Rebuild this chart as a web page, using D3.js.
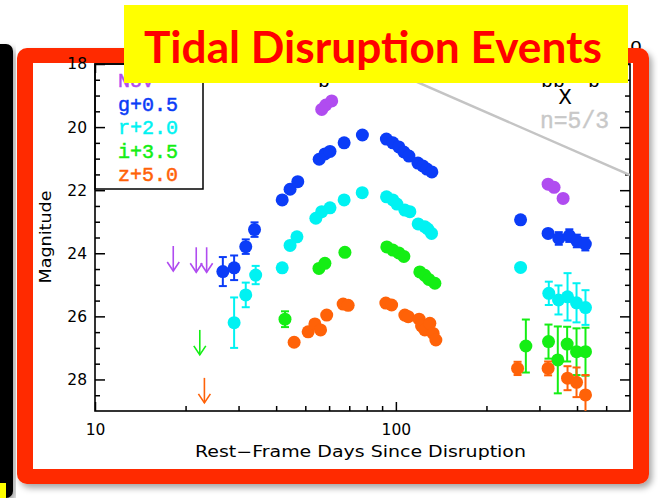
<!DOCTYPE html>
<html>
<head>
<meta charset="utf-8">
<script src="https://cdn.jsdelivr.net/npm/d3@7"></script>
<style>
  html, body { margin: 0; padding: 0; background: #fff; }
  svg { display: block; }
</style>
</head>
<body>
<svg id="chart" width="658" height="498"></svg>
<script>
// ---- Light-curve data (rest-frame days, apparent magnitude, 1-sigma error) ----
const bandNames   = ["NUV", "g", "r", "i", "z"];
const bandOffsets = [0, 0.5, 2.0, 3.5, 5.0];
const legendLabels = ["NUV", "g+0.5", "r+2.0", "i+3.5", "z+5.0"];
const bandColors  = ["#b04cf0", "#0b3cf7", "#00f2f2", "#14ee14", "#ff6208"];

const nuvDays = [56.7, 58.5, 61.2, 320.6, 335.6, 359.6];
const nuvMag  = [19.44, 19.30, 19.17, 21.81, 21.91, 22.26];
const nuvErr  = [0, 0, 0, 0, 0, 0];

const gDays = [26.6, 29.0, 31.7, 33.9, 41.9, 44.5, 47.2, 55.6, 58.1, 60.4, 67.3, 77.4,
               93.0, 97.7, 102.3, 106.3, 110.5, 118.4, 122.9, 126.8, 131.7,
               259.7, 320.6, 347.9, 377.1, 399.4, 426.3];
const gMag  = [24.08, 23.96, 23.29, 22.75, 21.81, 21.47, 21.23, 20.52, 20.35, 20.27, 20.00, 19.75,
               19.88, 20.00, 20.13, 20.29, 20.42, 20.64, 20.73, 20.83, 20.92,
               22.44, 22.87, 23.03, 22.94, 23.11, 23.21];
const gErr  = [0.46, 0.39, 0.23, 0.23, 0, 0, 0, 0, 0, 0, 0, 0,
               0, 0, 0, 0, 0, 0, 0, 0, 0,
               0, 0.10, 0.20, 0.20, 0.20, 0.20];

const rDays = [29.0, 31.7, 34.2, 41.9, 44.5, 46.9, 54.2, 56.7, 60.4, 67.3, 77.3,
               93.1, 97.7, 100.8, 107.1, 111.3, 118.6, 124.8, 127.7, 131.4,
               259.7, 322.3, 347.1, 372.0, 398.5, 426.8];
const rMag  = [24.20, 23.32, 22.69, 22.46, 21.75, 21.48, 20.89, 20.68, 20.56, 20.31, 20.08,
               20.21, 20.31, 20.44, 20.63, 20.68, 21.07, 21.16, 21.23, 21.37,
               22.45, 23.27, 23.48, 23.38, 23.57, 23.72];
const rErr  = [0.80, 0.39, 0.29, 0, 0, 0, 0, 0, 0, 0, 0,
               0, 0, 0, 0, 0, 0, 0, 0, 0,
               0, 0.37, 0.46, 0.75, 0.62, 0.55];

const iDays = [42.8, 55.5, 58.1, 67.7, 93.3, 97.7, 102.3, 106.3, 120.1, 124.8, 128.7, 134.8,
               270.4, 321.6, 345.3, 370.9, 398.5, 426.8];
const iMag  = [22.59, 20.98, 20.82, 20.47, 20.30, 20.40, 20.49, 20.60, 21.09, 21.20, 21.33, 21.45,
               23.44, 23.30, 23.88, 23.38, 23.62, 23.62];
const iErr  = [0.25, 0, 0, 0, 0, 0, 0, 0, 0, 0, 0, 0,
               0.84, 0.54, 1.06, 0.55, 0.74, 0.76];

const zDays = [45.9, 51.1, 53.8, 56.2, 58.9, 66.8, 69.4, 92.6, 96.8, 107.1, 109.9, 119.5,
               121.7, 124.8, 129.7, 133.0, 135.8,
               253.8, 320.6, 372.0, 398.5, 426.8];
const zMag  = [21.82, 21.49, 21.24, 21.43, 20.96, 20.61, 20.65, 20.58, 20.64, 20.96, 21.01, 21.09,
               21.30, 21.43, 21.22, 21.54, 21.75,
               22.65, 22.65, 22.96, 23.09, 23.49];
const zErr  = [0, 0, 0, 0, 0, 0, 0, 0, 0, 0, 0, 0,
               0, 0, 0, 0, 0,
               0.21, 0.22, 0.38, 0.47, 0.63];

// Pre-detection upper limits (band index, day, limiting magnitude)
const limitBand = [0, 0, 0, 3, 4];
const limitDays = [18.2, 21.7, 23.5, 22.3, 23.1];
const limitMag  = [23.77, 23.81, 23.81, 22.93, 22.95];

// Power-law fallback t^(-5/3), anchored at the right edge
const powerIndex = 5 / 3;
const powerAnchorDay = 600;
const powerAnchorMag = 21.52;
const powerStartDay = 30;

// Axis ticks
const xDomain = [10, 600];
const yDomain = [18, 29];
const xMajor = [10, 100];
const xMinor = [20, 30, 40, 50, 60, 70, 80, 90, 200, 300, 400, 500];
const yMajor = [18, 20, 22, 24, 26, 28];
const yMinor = [18.5, 19, 19.5, 20.5, 21, 21.5, 22.5, 23, 23.5, 24.5, 25, 25.5, 26.5, 27, 27.5, 28.5];

const series = [
  { days: nuvDays, mag: nuvMag, err: nuvErr },
  { days: gDays, mag: gMag, err: gErr },
  { days: rDays, mag: rMag, err: rErr },
  { days: iDays, mag: iMag, err: iErr },
  { days: zDays, mag: zMag, err: zErr }
];

// ---- Layout ----
const plot = { left: 95, right: 630, top: 64, bottom: 411 };
const svg = d3.select("#chart");

const x = d3.scaleLog().domain(xDomain).range([plot.left, plot.right]);
const y = d3.scaleLinear().domain(yDomain).range([plot.top, plot.bottom]);

const defs = svg.append("defs");
const shadow = defs.append("filter").attr("id", "shadow")
  .attr("x", "-10%").attr("y", "-10%").attr("width", "120%").attr("height", "120%");
shadow.append("feDropShadow").attr("dx", 3).attr("dy", 4)
  .attr("stdDeviation", 3).attr("flood-color", "#000").attr("flood-opacity", 0.35);
defs.append("clipPath").attr("id", "plotClip").append("rect")
  .attr("x", plot.left).attr("y", plot.top)
  .attr("width", plot.right - plot.left).attr("height", plot.bottom - plot.top);

// ---- Slide decoration ----
svg.append("rect").attr("x", -12).attr("y", 44).attr("width", 25).attr("height", 454)
  .attr("rx", 7).attr("fill", "#000").attr("filter", "url(#shadow)");
svg.append("rect").attr("x", 0).attr("y", 483).attr("width", 6).attr("height", 15).attr("fill", "#ffff00");

svg.append("text").attr("x", 636).attr("y", 52).attr("text-anchor", "middle")
  .attr("font-family", "Liberation Mono").attr("font-size", 20).attr("fill", "#000").text("o");

svg.append("rect").attr("x", 17).attr("y", 48).attr("width", 632).attr("height", 436)
  .attr("rx", 10).attr("fill", "#ff2a00").attr("filter", "url(#shadow)");
svg.append("rect").attr("x", 33).attr("y", 63).attr("width", 600).attr("height", 406).attr("fill", "#fff");

// ---- Axes ----
function styleAxis(g) {
  g.select(".domain").remove();
  g.selectAll(".tick line").attr("stroke", "#000").attr("stroke-width", 1.5);
  g.selectAll("text").attr("font-family", "DejaVu Sans").attr("font-size", 15.5).attr("fill", "#000");
}

svg.append("g").attr("transform", `translate(${plot.left},0)`)
  .call(d3.axisLeft(y).tickValues(yMajor).tickSizeInner(-10).tickSizeOuter(0).tickPadding(8).tickFormat(d3.format("d")))
  .call(styleAxis);
svg.append("g").attr("transform", `translate(${plot.left},0)`)
  .call(d3.axisLeft(y).tickValues(yMinor).tickSizeInner(-5).tickSizeOuter(0).tickFormat(""))
  .call(styleAxis);
svg.append("g").attr("transform", `translate(${plot.right},0)`)
  .call(d3.axisRight(y).tickValues(yMajor).tickSizeInner(-10).tickSizeOuter(0).tickFormat(""))
  .call(styleAxis);
svg.append("g").attr("transform", `translate(${plot.right},0)`)
  .call(d3.axisRight(y).tickValues(yMinor).tickSizeInner(-5).tickSizeOuter(0).tickFormat(""))
  .call(styleAxis);
svg.append("g").attr("transform", `translate(0,${plot.bottom})`)
  .call(d3.axisBottom(x).tickValues(xMajor).tickSizeInner(-9).tickSizeOuter(0).tickPadding(13).tickFormat(d3.format("d")))
  .call(styleAxis);
svg.append("g").attr("transform", `translate(0,${plot.bottom})`)
  .call(d3.axisBottom(x).tickValues(xMinor).tickSizeInner(-5).tickSizeOuter(0).tickFormat(""))
  .call(styleAxis);
svg.append("g").attr("transform", `translate(0,${plot.top})`)
  .call(d3.axisTop(x).tickValues(xMajor).tickSizeInner(-9).tickSizeOuter(0).tickFormat(""))
  .call(styleAxis);
svg.append("g").attr("transform", `translate(0,${plot.top})`)
  .call(d3.axisTop(x).tickValues(xMinor).tickSizeInner(-5).tickSizeOuter(0).tickFormat(""))
  .call(styleAxis);

svg.append("rect").attr("x", plot.left).attr("y", plot.top)
  .attr("width", plot.right - plot.left).attr("height", plot.bottom - plot.top)
  .attr("fill", "none").attr("stroke", "#000").attr("stroke-width", 1.6);

svg.append("text").attr("x", (plot.left + plot.right) / 2 - 2).attr("y", 457)
  .attr("text-anchor", "middle").attr("font-family", "DejaVu Sans").attr("font-size", 15)
  .attr("textLength", 331).attr("lengthAdjust", "spacingAndGlyphs")
  .text("Rest\u2212Frame Days Since Disruption");
svg.append("text").attr("transform", "translate(51,237) rotate(-90)")
  .attr("text-anchor", "middle").attr("font-family", "DejaVu Sans").attr("font-size", 15)
  .attr("textLength", 93).attr("lengthAdjust", "spacingAndGlyphs")
  .text("Magnitude");

// ---- Plot contents ----
const body = svg.append("g").attr("clip-path", "url(#plotClip)");

// t^(-5/3) decline: m = m0 + 2.5 n log10(t / t0)
const powerMag = t => powerAnchorMag + 2.5 * powerIndex * Math.log10(t / powerAnchorDay);
body.append("line")
  .attr("x1", x(powerStartDay)).attr("y1", y(powerMag(powerStartDay)))
  .attr("x2", x(powerAnchorDay)).attr("y2", y(powerMag(powerAnchorDay)))
  .attr("stroke", "#c4c4c4").attr("stroke-width", 2.5);

// Upper-limit arrows
const arrowLen = 25;
limitDays.forEach((d, k) => {
  const b = limitBand[k];
  const px = x(d), py = y(limitMag[k] + bandOffsets[b]);
  const g = body.append("g").attr("stroke", bandColors[b]).attr("stroke-width", 1.6).attr("fill", "none");
  g.append("line").attr("x1", px).attr("y1", py).attr("x2", px).attr("y2", py + arrowLen);
  g.append("polyline").attr("points", `${px - 6},${py + arrowLen - 9} ${px},${py + arrowLen} ${px + 6},${py + arrowLen - 9}`);
});

// Error bars and points
series.forEach((s, b) => {
  const pts = s.days.map((d, k) => ({ d, m: s.mag[k] + bandOffsets[b], e: s.err[k] }));
  const col = bandColors[b];
  const bars = body.append("g").attr("stroke", col).attr("stroke-width", 2);
  pts.filter(p => p.e > 0).forEach(p => {
    const px = x(p.d), y1 = y(p.m - p.e), y2 = y(p.m + p.e);
    bars.append("line").attr("x1", px).attr("x2", px).attr("y1", y1).attr("y2", y2);
    bars.append("line").attr("x1", px - 4).attr("x2", px + 4).attr("y1", y1).attr("y2", y1);
    bars.append("line").attr("x1", px - 4).attr("x2", px + 4).attr("y1", y2).attr("y2", y2);
  });
  body.append("g").selectAll("circle").data(pts).join("circle")
    .attr("cx", p => x(p.d)).attr("cy", p => y(p.m)).attr("r", 6.5).attr("fill", col);
});

// Legend
svg.append("rect").attr("x", plot.left).attr("y", plot.top).attr("width", 108).attr("height", 125)
  .attr("fill", "none").attr("stroke", "#000").attr("stroke-width", 1.5);
legendLabels.forEach((lab, k) => {
  svg.append("text").attr("x", 118).attr("y", 87 + k * 23.5)
    .attr("font-family", "Liberation Mono").attr("font-size", 20)
    .attr("fill", bandColors[k]).attr("stroke", bandColors[k]).attr("stroke-width", 0.5)
    .text(lab);
});

svg.append("text").attr("x", 540).attr("y", 128)
  .attr("font-family", "Liberation Mono").attr("font-size", 23)
  .attr("fill", "#c8c8c8").attr("stroke", "#c8c8c8").attr("stroke-width", 0.4).text("n=5/3");

// Source markers along the top
svg.append("text").attr("x", 541).attr("y", 87).attr("font-family", "Liberation Mono").attr("font-size", 20).text("bb");
svg.append("text").attr("x", 588).attr("y", 87).attr("font-family", "Liberation Mono").attr("font-size", 20).text("b");
svg.append("text").attr("x", 318).attr("y", 87).attr("font-family", "Liberation Mono").attr("font-size", 20).text("b");
svg.append("text").attr("x", 565).attr("y", 104).attr("text-anchor", "middle")
  .attr("font-family", "Liberation Mono").attr("font-size", 22).text("X");

// ---- Title banner ----
svg.append("rect").attr("x", 124).attr("y", 5).attr("width", 504).attr("height", 78).attr("fill", "#ffff00");
svg.append("text").attr("x", 373).attr("y", 63).attr("text-anchor", "middle")
  .attr("font-family", "Lato").attr("font-weight", 700).attr("font-size", 43).attr("fill", "#ff0000")
  .attr("textLength", 458).attr("lengthAdjust", "spacingAndGlyphs")
  .text("Tidal Disruption Events");
</script>
</body>
</html>
